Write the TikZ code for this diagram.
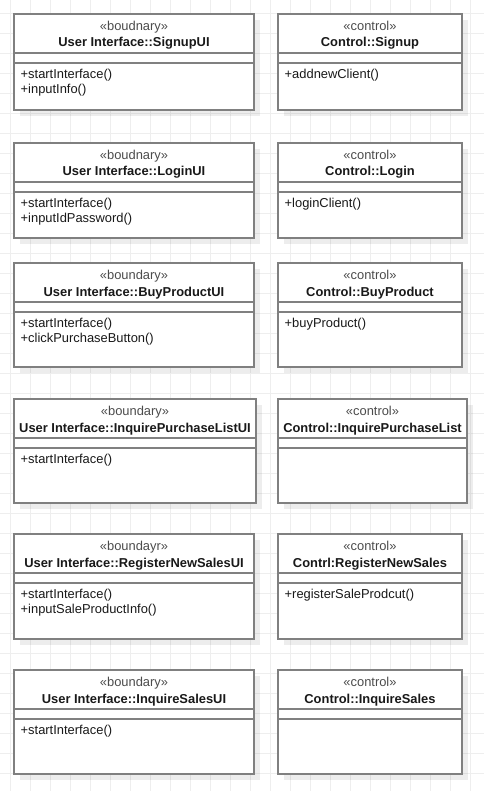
\documentclass[tikz,border=0pt]{standalone}
\usepackage{fontspec}
\setmainfont{Liberation Sans}
\usetikzlibrary{positioning,shadows}

\definecolor{gridgray}{HTML}{EEEEEE}
\definecolor{boxgray}{HTML}{808080}

\tikzset{
  gridline/.style={draw=gridgray, line width=0.8pt},
  classbox/.style={draw=boxgray, line width=1.7pt, fill=white, inner sep=0pt, outer sep=0pt,
    anchor=north west, drop shadow={shadow xshift=6pt, shadow yshift=-6pt, fill=black, opacity=0.07}},
  divider/.style={draw=boxgray, line width=1.7pt},
  stereo/.style={font=\fontsize{12.9}{15}\selectfont, text=black!70, inner sep=0pt, anchor=base},
  classname/.style={font=\fontsize{12.9}{15}\selectfont\bfseries, text=black!90, inner sep=0pt, anchor=base},
  ops/.style={font=\fontsize{12.9}{15}\selectfont, text=black!90, align=left, inner sep=0pt, anchor=north west},
}

\begin{document}
\begin{tikzpicture}[x=1pt,y=-1pt]
  \useasboundingbox (0,0) rectangle (484,791);
  % background grid
  \foreach \x in {10,30,...,470} \draw[gridline] (\x,0) -- (\x,791);
  \foreach \y in {13,33,...,793} \draw[gridline] (0,\y) -- (484,\y);

  % boundary class (left) and control class (right) of each use case
  \foreach \id/\ytop/\h/\wl/\wr/\kind/\uiname/\uiops/\ctlname/\ctlops in {
      Signup/14/96/240/184/boudnary/SignupUI/{+startInterface()\\+inputInfo()}/Control::Signup/{+addnewClient()},
      Login/143/95/240/184/boudnary/LoginUI/{+startInterface()\\+inputIdPassword()}/Control::Login/{+loginClient()},
      BuyProduct/263/104/240/184/boundary/BuyProductUI/{+startInterface()\\+clickPurchaseButton()}/Control::BuyProduct/{+buyProduct()},
      InquirePurchaseList/399/104/242/189/boundary/InquirePurchaseListUI/{+startInterface()}/Control::InquirePurchaseList/{},
      RegisterNewSales/534/105/240/184/boundayr/RegisterNewSalesUI/{+startInterface()\\+inputSaleProductInfo()}/Contrl:RegisterNewSales/{+registerSaleProdcut()},
      InquireSales/670/104/240/184/boundary/InquireSalesUI/{+startInterface()}/Control::InquireSales/{}
    } {
    % boundary
    \node[classbox, minimum width=\wl pt, minimum height=\h pt] (ui\id) at (14,\ytop) {};
    \draw[divider] ([yshift=-39pt]ui\id.north west) -- ([yshift=-39pt]ui\id.north east);
    \draw[divider] ([yshift=-49pt]ui\id.north west) -- ([yshift=-49pt]ui\id.north east);
    \node[stereo] (ui\id-kind) at ([yshift=-16.5pt]ui\id.north) {«\kind»};
    \node[classname] (ui\id-name) at ([yshift=-33pt]ui\id.north) {User Interface::\uiname};
    \node[ops] (ui\id-ops) at ([xshift=6.5pt,yshift=-54.5pt]ui\id.north west) {\uiops};
    % control
    \node[classbox, minimum width=\wr pt, minimum height=\h pt] (ctl\id) at (278,\ytop) {};
    \draw[divider] ([yshift=-39pt]ctl\id.north west) -- ([yshift=-39pt]ctl\id.north east);
    \draw[divider] ([yshift=-49pt]ctl\id.north west) -- ([yshift=-49pt]ctl\id.north east);
    \node[stereo] (ctl\id-kind) at ([yshift=-16.5pt]ctl\id.north) {«control»};
    \node[classname] (ctl\id-name) at ([yshift=-33pt]ctl\id.north) {\ctlname};
    \node[ops] (ctl\id-ops) at ([xshift=6.5pt,yshift=-54.5pt]ctl\id.north west) {\ctlops};
  }
\end{tikzpicture}
\end{document}
